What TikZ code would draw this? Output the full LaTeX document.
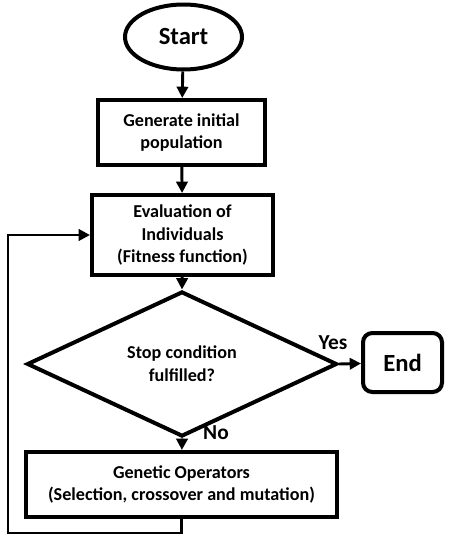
\documentclass[tikz,border=0pt]{standalone}
\usepackage{fontspec}
\setmainfont{Carlito}
\usetikzlibrary{shapes,arrows.meta,positioning}

\begin{document}
\begin{tikzpicture}[x=0.75pt,y=0.75pt,yscale=-1,xscale=1,
  box/.style={draw,line width=3pt,align=center,inner sep=2pt,font=\fontsize{13.6}{17}\selectfont\bfseries},
  term/.style={draw,line width=3pt,font=\fontsize{18.5}{20}\selectfont\bfseries},
  flow/.style={line width=2.2pt,-{Triangle[length=8.5pt,width=8.5pt]}},
  lbl/.style={font=\fontsize{16}{18}\selectfont\bfseries}]
\useasboundingbox (0,0) rectangle (449,543);

% Terminals
\node [term,ellipse,minimum width=87.75pt,minimum height=48.75pt] (start) at (183.5,37) {Start};
\node [term,rounded corners=7pt,minimum width=59.25pt,minimum height=44.25pt] (end) at (402.5,362.5) {End};

% Process boxes
\node [box,minimum width=125.25pt,minimum height=48.75pt] (gen) at (181.5,132.5) {Generate initial\\population};
\node [box,minimum width=135.75pt,minimum height=60pt] (eval) at (182.5,235) {Evaluation of\\Individuals\\(Fitness function)};
\node [box,diamond,minimum width=232.5pt,minimum height=88.5pt,inner sep=0pt] (cond) at (182,364) {Stop condition\\fulfilled?};
\node [box,minimum width=233.25pt,minimum height=48.75pt] (ops) at (181.5,484.5) {Genetic Operators\\(Selection, crossover and mutation)};

% Labels
\node [lbl] (yes) at (333,343) {Yes};
\node [lbl] (no) at (216,433) {No};

% Connectors
\coordinate (corner) at (8,533);
\draw [flow] (start) -- (gen);
\draw [flow] (gen) -- (eval);
\draw [flow] (eval) -- (cond.north);
\draw [flow] (cond.east) -- (end);
\draw [flow] (cond.south) -- (ops);
\draw [flow] (ops.south) |- (corner) |- (eval.west);

\end{tikzpicture}
\end{document}
